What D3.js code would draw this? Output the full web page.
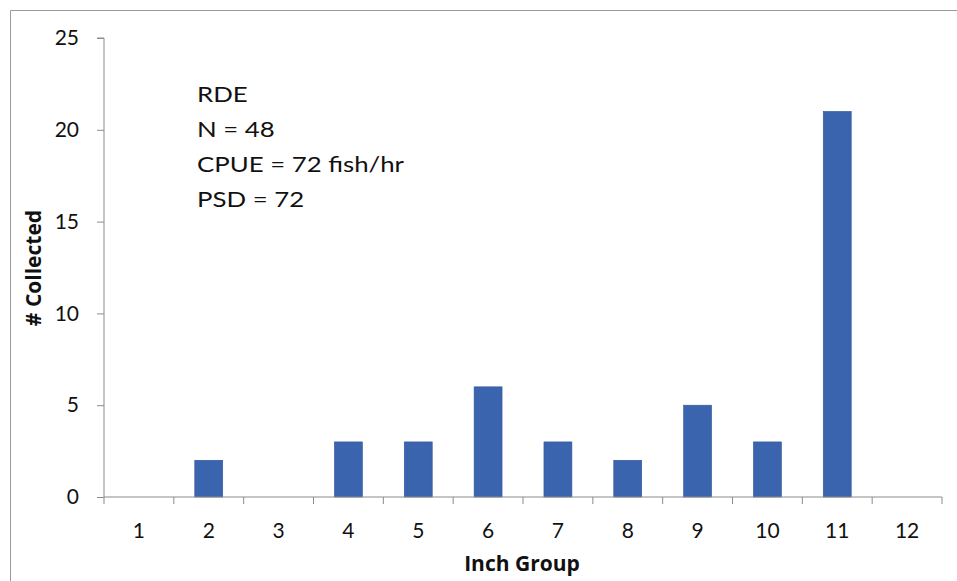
<!DOCTYPE html>
<html><head><meta charset="utf-8">
<script src="https://cdn.jsdelivr.net/npm/d3@7"></script>
<style>body{margin:0;background:#fff;} svg{display:block;}</style>
</head><body>
<svg id="c" width="957" height="581"></svg>
<script>
const categories = ["1","2","3","4","5","6","7","8","9","10","11","12"];
const counts = [0,2,0,3,3,6,3,2,5,3,21,0];
const yTicks = [0,5,10,15,20,25];
const noteLines = ["RDE","N = 48","CPUE = 72 fish/hr","PSD = 72"];

const svg = d3.select("#c");
const font = "Lato, 'Open Sans', sans-serif";
const wide = "'Open Sans', Lato, sans-serif";
const m = {left:104, right:942, top:38, bottom:497};

// outer frame
svg.append("path").attr("d","M10.5,581 L10.5,10.5 L957,10.5").attr("fill","none").attr("stroke","#9a9a9a").attr("stroke-width",1);

const x = d3.scaleBand().domain(categories).range([m.left,m.right]).paddingInner(0).paddingOuter(0);
const y = d3.scaleLinear().domain([0,25]).range([m.bottom,m.top]);

// bars
svg.append("g").selectAll("rect").data(counts).join("rect")
  .attr("x",(d,i)=>x(categories[i]) + x.bandwidth()*0.3)
  .attr("width",x.bandwidth()*0.4)
  .attr("y",d=>y(d))
  .attr("height",d=>m.bottom-y(d))
  .attr("fill","#3a64ae")
  .attr("stroke","#2f5597").attr("stroke-width",0.6);

// y axis
const ya = svg.append("g").attr("transform",`translate(${m.left},0)`)
  .call(d3.axisLeft(y).tickValues(yTicks).tickSize(7).tickPadding(18).tickFormat(d3.format("d")));
ya.select(".domain").attr("stroke","#8c8c8c").attr("d",`M-7,${m.top}H0V${m.bottom}`);
ya.selectAll(".tick line").attr("stroke","#8c8c8c");
ya.selectAll("text").attr("font-family",font).attr("font-size",21).attr("fill","#111");

// x axis
const xa = svg.append("g").attr("transform",`translate(0,${m.bottom})`)
  .call(d3.axisBottom(x).tickSize(0).tickPadding(26));
xa.select(".domain").attr("stroke","#8c8c8c").attr("d",`M${m.left},0H${m.right}`);
xa.selectAll("text").attr("font-family",font).attr("font-size",21).attr("fill","#111");
// boundary ticks
const bounds = categories.map(c=>x(c)).concat([m.right]);
xa.append("g").selectAll("line").data(bounds).join("line")
  .attr("x1",d=>d).attr("x2",d=>d).attr("y1",0).attr("y2",7)
  .attr("stroke","#8c8c8c");

// axis titles
svg.append("text").attr("x",522).attr("y",571).attr("text-anchor","middle")
  .attr("font-family",wide).attr("font-weight","bold").attr("font-size",21).attr("fill","#111").text("Inch Group");
svg.append("text").attr("transform","translate(41,268) rotate(-90)").attr("text-anchor","middle")
  .attr("font-family",wide).attr("font-weight","bold").attr("font-size",21).attr("fill","#111").text("# Collected");

// annotation
svg.append("g").attr("transform","translate(197,0) scale(1.2,1)")
  .selectAll("text").data(noteLines).join("text")
  .attr("x",0).attr("y",(d,i)=>102+i*35)
  .attr("font-family",font).attr("font-size",21.5).attr("fill","#111").text(d=>d);
</script>
</body></html>
